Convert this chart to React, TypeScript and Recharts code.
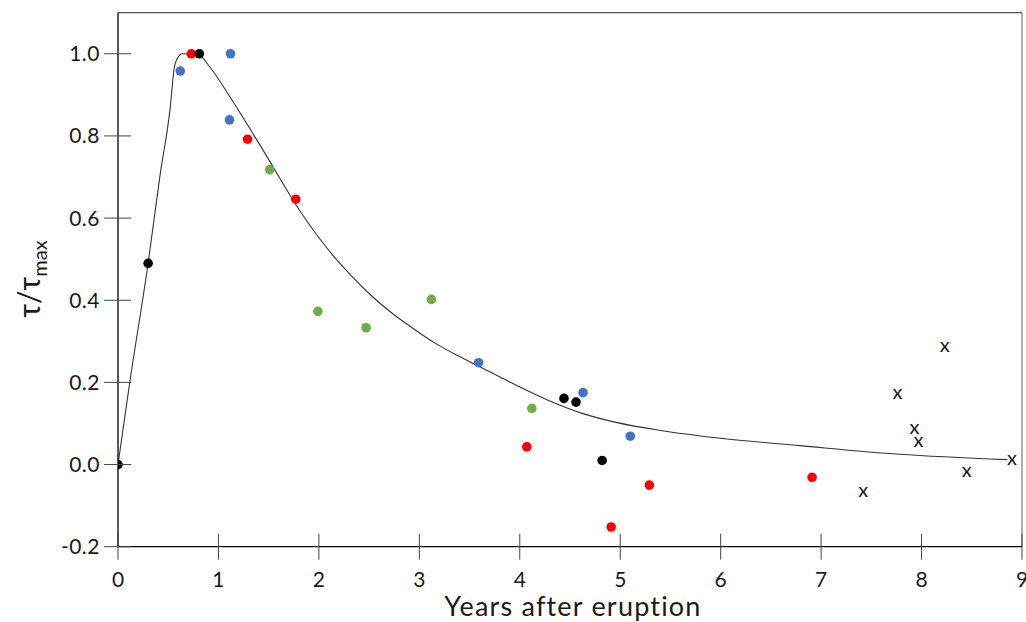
import React from 'react';
import { ComposedChart, Line, Scatter, XAxis, YAxis, ReferenceLine } from 'recharts';

// fitted curve
const curve = [
  { x: 0, y: 0 }, { x: 0.12, y: 0.205 }, { x: 0.3, y: 0.49 }, { x: 0.42, y: 0.707 },
  { x: 0.52, y: 0.869 }, { x: 0.56, y: 0.966 }, { x: 0.59, y: 0.988 }, { x: 0.64, y: 1.0 },
  { x: 0.8, y: 0.998 }, { x: 0.92, y: 0.966 }, { x: 1.12, y: 0.893 }, { x: 1.45, y: 0.763 },
  { x: 1.81, y: 0.618 }, { x: 2.11, y: 0.518 }, { x: 2.31, y: 0.463 }, { x: 2.51, y: 0.414 },
  { x: 2.71, y: 0.372 }, { x: 2.91, y: 0.336 }, { x: 3.14, y: 0.298 }, { x: 3.39, y: 0.264 },
  { x: 3.61, y: 0.237 }, { x: 3.9, y: 0.201 }, { x: 4.27, y: 0.158 }, { x: 4.63, y: 0.124 },
  { x: 4.97, y: 0.102 }, { x: 5.4, y: 0.083 }, { x: 6.0, y: 0.064 }, { x: 6.79, y: 0.046 },
  { x: 7.78, y: 0.025 }, { x: 8.85, y: 0.012 },
];

const blackPts = [
  { x: 0, y: 0 }, { x: 0.3, y: 0.49 }, { x: 0.81, y: 1.0 },
  { x: 4.44, y: 0.161 }, { x: 4.56, y: 0.152 }, { x: 4.82, y: 0.01 },
];
const redPts = [
  { x: 0.73, y: 1.0 }, { x: 1.29, y: 0.792 }, { x: 1.77, y: 0.646 }, { x: 4.07, y: 0.043 },
  { x: 4.91, y: -0.152 }, { x: 5.29, y: -0.05 }, { x: 6.91, y: -0.031 },
];
const bluePts = [
  { x: 0.62, y: 0.958 }, { x: 1.11, y: 0.839 }, { x: 1.12, y: 1.0 },
  { x: 3.59, y: 0.248 }, { x: 4.63, y: 0.175 }, { x: 5.1, y: 0.069 },
];
const greenPts = [
  { x: 1.51, y: 0.718 }, { x: 1.99, y: 0.373 }, { x: 2.47, y: 0.333 },
  { x: 3.12, y: 0.402 }, { x: 4.12, y: 0.137 },
];
const crossPts = [
  { x: 7.42, y: -0.068 }, { x: 7.76, y: 0.172 }, { x: 8.23, y: 0.286 }, { x: 7.93, y: 0.087 },
  { x: 7.97, y: 0.055 }, { x: 8.45, y: -0.018 }, { x: 8.9, y: 0.01 },
];

const xTicks = [0, 1, 2, 3, 4, 5, 6, 7, 8, 9];
const yTicks = [-0.2, 0, 0.2, 0.4, 0.6, 0.8, 1.0];

const FONT = 'Lato, "Open Sans", sans-serif';
const INK = '#1a1a1a';

const YTick = ({ x, y, payload }: any) => (
  <g>
    <line x1={x - 14} x2={x + 13} y1={y} y2={y} stroke="#444" />
    <text x={x - 18} y={y + 7.5} textAnchor="end" fontSize={21} letterSpacing={0.5} fill={INK} fontFamily={FONT}>
      {Number(payload.value).toFixed(1)}
    </text>
  </g>
);

const XTick = ({ x, y, payload }: any) => (
  <g>
    <line x1={x} x2={x} y1={y - 13} y2={y + 13} stroke="#444" />
    <text x={x} y={y + 40} textAnchor="middle" fontSize={21} fill={INK} fontFamily={FONT}>
      {payload.value}
    </text>
  </g>
);

const Dot = (color: string) => (p: any) => <circle cx={p.cx} cy={p.cy} r={4.8} fill={color} />;

const Cross = (p: any) => (
  <text x={p.cx} y={p.cy + 5} textAnchor="middle" fontSize={20} fill={INK} fontFamily={FONT}>
    x
  </text>
);

export default function App() {
  return (
    <div style={{ position: 'absolute', left: 0, top: 0, background: '#fff' }}>
      <ComposedChart width={1026} height={622} margin={{ top: 12.7, right: 4, bottom: 15.3, left: 18 }}>
        <XAxis
          type="number"
          dataKey="x"
          domain={[0, 9]}
          ticks={xTicks}
          interval={0}
          height={60}
          tickSize={0}
          tickMargin={0}
          tick={<XTick />}
          axisLine={{ stroke: '#000', strokeWidth: 1.3 }}
          allowDataOverflow
          label={{
            content: () => (
              <text x={573} y={616} textAnchor="middle" fontSize={27} letterSpacing={1.2} fill={INK} fontFamily={FONT}>
                Years after eruption
              </text>
            ),
          }}
        />
        <YAxis
          type="number"
          dataKey="y"
          domain={[-0.2, 1.1]}
          ticks={yTicks}
          interval={0}
          width={100}
          tickSize={0}
          tickMargin={0}
          tick={<YTick />}
          axisLine={{ stroke: '#000', strokeWidth: 1.3 }}
          allowDataOverflow
          label={{
            content: () => (
              <text transform="translate(40,279) rotate(-90)" textAnchor="middle" fontSize={30} fill={INK} fontFamily={FONT}>
                τ/τ<tspan dy={7} fontSize={20}>max</tspan>
              </text>
            ),
          }}
        />
        <ReferenceLine y={1.1} stroke="#555" strokeWidth={1.2} />
        <ReferenceLine x={9} stroke="#777" strokeWidth={1.2} />
        <Line data={curve} dataKey="y" type="monotone" stroke="#333" strokeWidth={1.1} dot={false} isAnimationActive={false} />
        <Scatter data={greenPts} shape={Dot('#70AD47')} isAnimationActive={false} />
        <Scatter data={bluePts} shape={Dot('#4472C4')} isAnimationActive={false} />
        <Scatter data={redPts} shape={Dot('#FF0000')} isAnimationActive={false} />
        <Scatter data={blackPts} shape={Dot('#000000')} isAnimationActive={false} />
        <Scatter data={crossPts} shape={Cross} isAnimationActive={false} />
      </ComposedChart>
    </div>
  );
}
